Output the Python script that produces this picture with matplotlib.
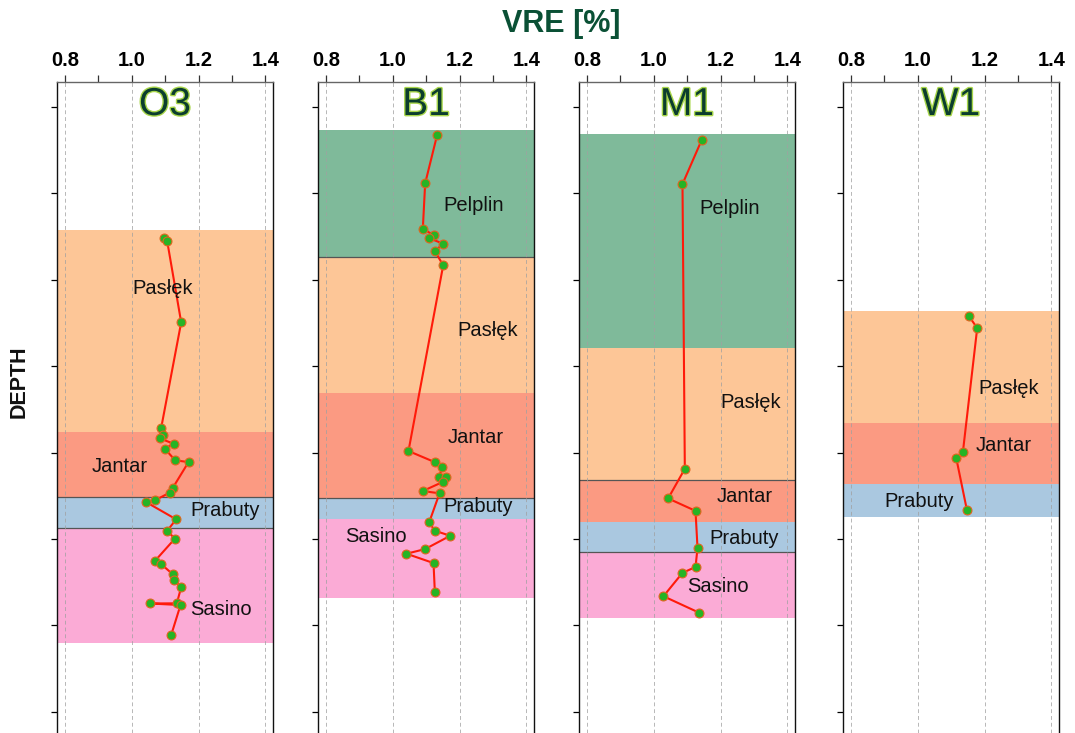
import matplotlib
matplotlib.use("Agg")
import matplotlib.pyplot as plt
import matplotlib.patheffects as pe
from matplotlib.ticker import FixedLocator

plt.rcParams['font.family'] = ['Liberation Sans', 'DejaVu Sans']

# ---------------- data ----------------
wells = ["O3", "B1", "M1", "W1"]

# VRE [%] values and depths (arbitrary depth units, increasing downward)
o3_vre = [1.098, 1.106, 1.148, 1.088, 1.094, 1.084, 1.125, 1.099, 1.130, 1.170,
          1.122, 1.113, 1.071, 1.044, 1.133, 1.106, 1.129, 1.069, 1.089, 1.123,
          1.127, 1.148, 1.135, 1.054, 1.146, 1.118]
o3_depth = [651.3, 655.1, 749.2, 871.5, 880.0, 883.4, 889.7, 895.5, 908.9, 910.9,
            941.3, 946.4, 954.9, 957.5, 977.2, 990.4, 999.6, 1025.5, 1029.3, 1040.9,
            1047.8, 1055.6, 1074.4, 1074.6, 1076.4, 1111.1]

b1_vre = [1.133, 1.097, 1.090, 1.122, 1.108, 1.151, 1.126, 1.151, 1.047, 1.127,
          1.148, 1.139, 1.158, 1.151, 1.090, 1.140, 1.109, 1.126, 1.172, 1.097,
          1.041, 1.122, 1.126]
b1_depth = [532.1, 588.3, 640.9, 648.1, 651.6, 658.2, 666.7, 683.2, 898.1, 911.2,
            916.7, 928.2, 928.3, 933.7, 944.4, 947.1, 980.7, 990.4, 996.2, 1011.6,
            1017.0, 1027.8, 1061.3]

m1_vre = [1.144, 1.086, 1.093, 1.043, 1.125, 1.131, 1.125, 1.086, 1.029, 1.136]
m1_depth = [537.7, 589.1, 918.7, 953.0, 967.4, 1010.4, 1032.4, 1039.1, 1066.2, 1085.3]

w1_vre = [1.153, 1.178, 1.135, 1.115, 1.147]
w1_depth = [741.9, 755.8, 899.7, 905.9, 966.1]

# formation tops/bases per well (name, top depth, base depth)
o3_units = [("Pasłęk", 642.4, 876.5), ("Jantar", 876.5, 951.7),
            ("Prabuty", 951.7, 987.6), ("Sasino", 987.6, 1120.7)]
b1_units = [("Pelplin", 526.6, 674.0), ("Pasłęk", 674.0, 831.4),
            ("Jantar", 831.4, 952.9), ("Prabuty", 952.9, 976.8),
            ("Sasino", 976.8, 1067.9)]
m1_units = [("Pelplin", 531.7, 778.9), ("Pasłęk", 778.9, 931.5),
            ("Jantar", 931.5, 980.1), ("Prabuty", 980.1, 1014.8),
            ("Sasino", 1014.8, 1091.0)]
w1_units = [("Pasłęk", 736.1, 865.4), ("Jantar", 865.4, 936.7),
            ("Prabuty", 936.7, 974.2)]

x_ticks = [0.8, 1.0, 1.2, 1.4]
x_tick_labels = ["0.8", "1.0", "1.2", "1.4"]
depth_ticks = [500, 600, 700, 800, 900, 1000, 1100, 1200]

# ---------------- styles / layout ----------------
unit_colors = {"Pelplin": "#7fba9a", "Pasłęk": "#fdc697", "Jantar": "#fb9a82",
               "Prabuty": "#aac8e0", "Sasino": "#fbabd6"}

# label positions (x in VRE units, depth) per well
label_pos = {
    "O3": {"Pasłęk": (1.093, 709.5), "Jantar": (0.964, 916.3),
           "Prabuty": (1.280, 967.2), "Sasino": (1.268, 1081.4)},
    "B1": {"Pelplin": (1.241, 613.4), "Pasłęk": (1.285, 758.1),
           "Jantar": (1.247, 882.3), "Prabuty": (1.255, 962.6),
           "Sasino": (0.951, 997.3)},
    "M1": {"Pelplin": (1.227, 617.5), "Pasłęk": (1.289, 841.8),
           "Jantar": (1.273, 950.2), "Prabuty": (1.271, 998.8),
           "Sasino": (1.191, 1054.6)},
    "W1": {"Pasłęk": (1.271, 825.6), "Jantar": (1.256, 892.0),
           "Prabuty": (1.004, 956.0)},
}
# boundaries drawn with a thin dark line
boundary_lines = {"O3": [951.7, 987.6], "B1": [674.0, 952.9],
                  "M1": [931.5, 1014.8], "W1": []}

series = {"O3": (o3_vre, o3_depth, o3_units),
          "B1": (b1_vre, b1_depth, b1_units),
          "M1": (m1_vre, m1_depth, m1_units),
          "W1": (w1_vre, w1_depth, w1_units)}

W, H = 1075, 733
fig = plt.figure(figsize=(W / 100, H / 100), dpi=100)
lefts_px = [57, 318, 579, 843]
width_px = 216
top_px = 82

for well, lpx in zip(wells, lefts_px):
    ax = fig.add_axes([lpx / W, 0, width_px / W, (H - top_px) / H])
    vre, depth, units = series[well]
    ax.set_xlim(0.776, 1.423)
    ax.set_ylim(1224.5, 471)

    for name, top, base in units:
        ax.axhspan(top, base, color=unit_colors[name], lw=0, zorder=0)
    for b in boundary_lines[well]:
        ax.axhline(b, color="#555555", lw=0.9, zorder=1)

    for xv in x_ticks:
        ax.axvline(xv, color="#a0a0a0", lw=0.7, ls=(0, (4, 3)), zorder=1, alpha=0.75)

    ax.plot(vre, depth, color="#ff1a0a", lw=1.5, zorder=3,
            marker="o", markersize=6.4, markerfacecolor="#25b425",
            markeredgecolor="#e2641e", markeredgewidth=0.8)

    for name, (lx, ly) in label_pos[well].items():
        ax.text(lx, ly, name, ha="center", va="center", fontsize=14.5,
                color="#111111", zorder=4)

    ax.annotate(well, xy=(0.5, 1), xycoords="axes fraction",
                xytext=(0, -23), textcoords="offset pixels",
                ha="center", va="center", fontsize=28, color="#0b3d2e",
                path_effects=[pe.withStroke(linewidth=2, foreground="#a8d64a")],
                zorder=5)

    ax.xaxis.tick_top()
    ax.set_xticks(x_ticks)
    ax.set_xticklabels(x_tick_labels, fontsize=14.5, fontweight="bold")
    ax.xaxis.set_minor_locator(FixedLocator([0.9, 1.1, 1.3]))
    ax.tick_params(axis="x", which="both", direction="out", length=5,
                   width=0.9, color="#333333", pad=4, top=True, bottom=False)
    ax.yaxis.set_major_locator(FixedLocator(depth_ticks))
    ax.tick_params(axis="y", which="both", direction="out", length=4,
                   width=0.9, labelleft=False, left=True)

    for side in ["left", "right"]:
        ax.spines[side].set_color("#111111")
        ax.spines[side].set_linewidth(1.0)
    ax.spines["top"].set_color("#666666")
    ax.spines["top"].set_linewidth(1.0)
    ax.spines["bottom"].set_visible(False)

fig.text(561.6 / W, 1 - 24 / H, "VRE [%]", ha="center", va="center",
         fontsize=22, fontweight="bold", color="#0a5035")
fig.text(19 / W, 1 - 382 / H, "DEPTH", ha="center", va="center",
         rotation=90, fontsize=15.5, fontweight="bold", color="#111111")

fig.savefig("out.png", dpi=100)
